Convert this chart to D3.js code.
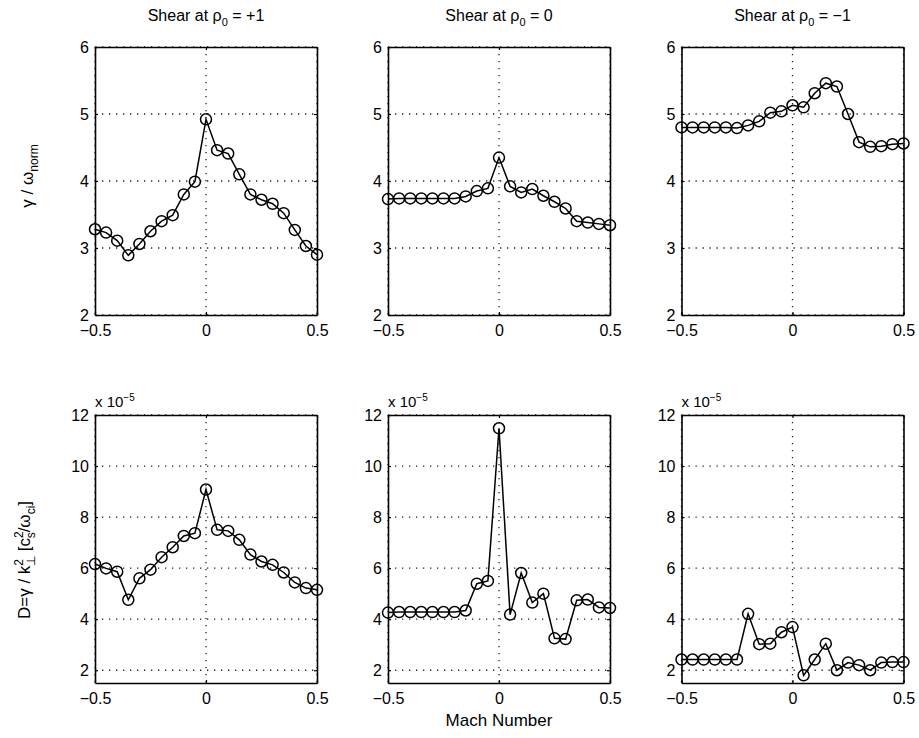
<!DOCTYPE html>
<html>
<head>
<meta charset="utf-8">
<script src="https://cdn.jsdelivr.net/npm/d3@7/dist/d3.min.js"></script>
<style>
  html, body { margin: 0; padding: 0; background: #fff; }
  svg { display: block; }
  text { font-family: "Liberation Sans", Arial, Helvetica, sans-serif; fill: #000; }
</style>
</head>
<body>
<svg id="chart" width="919" height="738"></svg>
<script>
// Mach number sweep shared by every panel
const machNumbers = [-0.5, -0.45, -0.4, -0.35, -0.3, -0.25, -0.2, -0.15, -0.1, -0.05,
                     0, 0.05, 0.1, 0.15, 0.2, 0.25, 0.3, 0.35, 0.4, 0.45, 0.5];

// Panel titles (shear location)
const shearLabels = ["+1", "0", "\u22121"];

// Growth rate gamma / omega_norm for each shear location
const growthShearPos = [3.28, 3.23, 3.11, 2.89, 3.06, 3.25, 3.40, 3.49, 3.80, 3.99,
                        4.92, 4.46, 4.41, 4.10, 3.80, 3.72, 3.66, 3.52, 3.27, 3.03, 2.90];
const growthShearZero = [3.73, 3.74, 3.74, 3.74, 3.74, 3.74, 3.74, 3.77, 3.85, 3.89,
                         4.35, 3.92, 3.83, 3.88, 3.78, 3.69, 3.59, 3.40, 3.38, 3.36, 3.34];
const growthShearNeg = [4.80, 4.80, 4.80, 4.80, 4.80, 4.79, 4.83, 4.89, 5.02, 5.04,
                        5.13, 5.10, 5.31, 5.46, 5.41, 5.00, 4.58, 4.51, 4.52, 4.55, 4.56];

// Diffusion coefficient D (units of 1e-5)
const diffShearPos = [6.16, 5.99, 5.86, 4.76, 5.60, 5.94, 6.43, 6.82, 7.26, 7.37,
                      9.08, 7.50, 7.46, 7.11, 6.53, 6.26, 6.13, 5.83, 5.44, 5.22, 5.15];
const diffShearZero = [4.26, 4.28, 4.28, 4.28, 4.28, 4.28, 4.28, 4.34, 5.39, 5.50,
                       11.48, 4.18, 5.81, 4.65, 5.00, 3.25, 3.22, 4.74, 4.77, 4.46, 4.44];
const diffShearNeg = [2.42, 2.42, 2.42, 2.42, 2.42, 2.42, 4.21, 3.02, 3.04, 3.49,
                      3.69, 1.80, 2.42, 3.04, 2.00, 2.30, 2.20, 2.00, 2.30, 2.32, 2.32];

// Axis limits and ticks
const xDomain = [-0.5, 0.5];
const xTicks = [-0.5, 0, 0.5];
const growthDomain = [2, 6];
const growthTicks = [2, 3, 4, 5, 6];
const diffDomain = [1.5, 12];
const diffTicks = [2, 4, 6, 8, 10, 12];

const growthSeries = [growthShearPos, growthShearZero, growthShearNeg];
const diffSeries = [diffShearPos, diffShearZero, diffShearNeg];

const svg = d3.select("#chart");

const colLeft = [95, 388, 681.5];
const panelW = 222;
const rows = [
  { top: 47, bottom: 315, domain: growthDomain, ticks: growthTicks, series: growthSeries },
  { top: 415, bottom: 683, domain: diffDomain, ticks: diffTicks, series: diffSeries }
];

const tickLen = 3;

rows.forEach((row, ri) => {
  row.series.forEach((vals, ci) => {
    const x = d3.scaleLinear().domain(xDomain).range([colLeft[ci], colLeft[ci] + panelW]);
    const y = d3.scaleLinear().domain(row.domain).range([row.bottom, row.top]);
    const g = svg.append("g");

    // dotted grid
    g.selectAll(".gx").data(xTicks).enter().append("line")
      .attr("x1", d => x(d)).attr("x2", d => x(d))
      .attr("y1", row.top).attr("y2", row.bottom)
      .attr("stroke", "#222").attr("stroke-width", 1.3)
      .attr("stroke-dasharray", "1.3,5.7");
    g.selectAll(".gy").data(row.ticks).enter().append("line")
      .attr("x1", x.range()[0]).attr("x2", x.range()[1])
      .attr("y1", d => y(d)).attr("y2", d => y(d))
      .attr("stroke", "#222").attr("stroke-width", 1.3)
      .attr("stroke-dasharray", "1.3,5.7");

    // axes (bottom / left with labels, top / right as box), ticks inward
    const ax = g.append("g").attr("transform", `translate(0,${row.bottom})`)
      .call(d3.axisBottom(x).tickValues(xTicks).tickSizeInner(-tickLen).tickSizeOuter(0)
        .tickPadding(10).tickFormat(d => d === 0 ? "0" : d3.format(".1f")(d).replace("-", "\u2212")));
    const ay = g.append("g").attr("transform", `translate(${x.range()[0]},0)`)
      .call(d3.axisLeft(y).tickValues(row.ticks).tickSizeInner(-tickLen).tickSizeOuter(0)
        .tickPadding(6).tickFormat(d3.format("d")));
    const axT = g.append("g").attr("transform", `translate(0,${row.top})`)
      .call(d3.axisTop(x).tickValues(xTicks).tickSizeInner(-tickLen).tickSizeOuter(0).tickFormat(""));
    const ayR = g.append("g").attr("transform", `translate(${x.range()[1]},0)`)
      .call(d3.axisRight(y).tickValues(row.ticks).tickSizeInner(-tickLen).tickSizeOuter(0).tickFormat(""));
    [ax, ay, axT, ayR].forEach(a => {
      a.select(".domain").attr("stroke", "#000").attr("stroke-width", 1.6);
      a.selectAll(".tick line").attr("stroke", "#000").attr("stroke-width", 1.2);
      a.selectAll("text").attr("font-size", 16).attr("fill", "#000")
        .style("font-family", "'Liberation Sans', Arial, sans-serif");
    });

    // data line with open circle markers
    const line = d3.line().x((d, i) => x(machNumbers[i])).y(d => y(d));
    g.append("path").datum(vals).attr("d", line)
      .attr("fill", "none").attr("stroke", "#000").attr("stroke-width", 1.5);
    g.selectAll(".pt").data(vals).enter().append("circle")
      .attr("cx", (d, i) => x(machNumbers[i])).attr("cy", d => y(d))
      .attr("r", 5.5).attr("fill", "none").attr("stroke", "#000").attr("stroke-width", 1.5);

    if (ri === 0) {
      // panel title
      const t = svg.append("text").attr("x", colLeft[ci] + panelW / 2).attr("y", 21)
        .attr("text-anchor", "middle").attr("font-size", 16);
      t.append("tspan").text("Shear at \u03c1");
      t.append("tspan").attr("font-size", 11).attr("dy", 5).text("0");
      t.append("tspan").attr("dy", -5).text(" = " + shearLabels[ci]);
    } else {
      // exponent marker
      const e = svg.append("text").attr("x", colLeft[ci]).attr("y", 407).attr("font-size", 15);
      e.append("tspan").text("x 10");
      e.append("tspan").attr("font-size", 10).attr("dy", -6).text("\u22125");
    }
  });
});

// y-axis labels
const yl1 = svg.append("text").attr("transform", "translate(33,176) rotate(-90)")
  .attr("text-anchor", "middle").attr("font-size", 17);
yl1.append("tspan").text("\u03b3 / \u03c9");
yl1.append("tspan").attr("font-size", 12).attr("dy", 5).text("norm");

const yl2 = svg.append("text").attr("transform", "translate(30,560) rotate(-90)")
  .attr("text-anchor", "middle").attr("font-size", 17);
yl2.append("tspan").text("D=\u03b3 / k");
yl2.append("tspan").attr("font-size", 12).attr("dy", -7).attr("dx", 0).text("2");
yl2.append("tspan").attr("font-size", 12).attr("dy", 12).attr("dx", -7).text("\u22a5");
yl2.append("tspan").attr("dy", -5).text(" [c");
yl2.append("tspan").attr("font-size", 12).attr("dy", -7).text("2");
yl2.append("tspan").attr("font-size", 12).attr("dy", 12).attr("dx", -7).text("s");
yl2.append("tspan").attr("dy", -5).text("/\u03c9");
yl2.append("tspan").attr("font-size", 12).attr("dy", 5).text("ci");
yl2.append("tspan").attr("dy", -5).text("]");

// x-axis label
svg.append("text").attr("x", colLeft[1] + panelW / 2).attr("y", 726)
  .attr("text-anchor", "middle").attr("font-size", 17).text("Mach Number");
</script>
</body>
</html>
